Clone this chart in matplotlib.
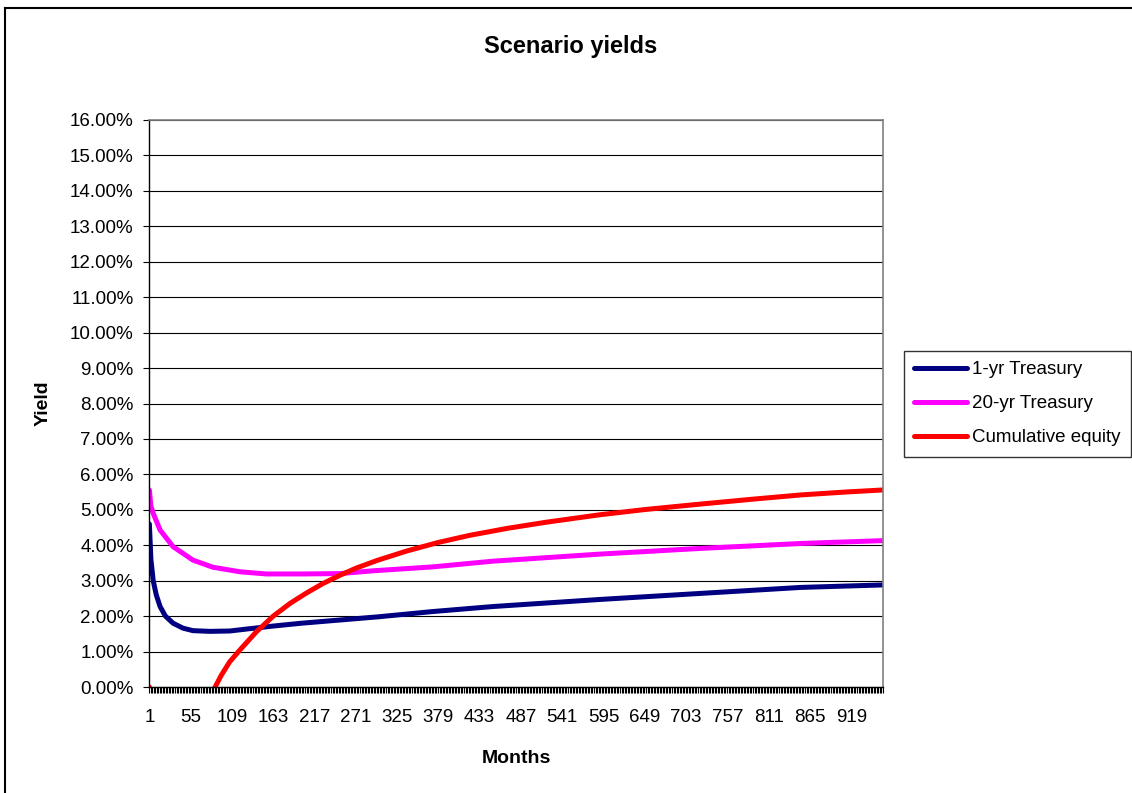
import matplotlib
matplotlib.use("Agg")
import matplotlib.pyplot as plt
from matplotlib.lines import Line2D
import numpy as np

plt.rcParams['font.family'] = ['Liberation Sans', 'DejaVu Sans']

# ---- data ----
n_months = 960
x_labels = list(range(1, n_months + 1, 54))  # 1, 55, 109, ... 919

months_1yr = [1, 3, 6, 10, 15, 22, 32, 45, 58, 80, 106, 130, 163, 200, 250, 300, 372, 450, 520, 590, 721, 853, 960]
yield_1yr = [4.60, 3.60, 3.00, 2.60, 2.27, 2.00, 1.80, 1.66, 1.59, 1.57, 1.58, 1.64, 1.72, 1.80, 1.89, 1.98, 2.13, 2.27, 2.37, 2.47, 2.64, 2.81, 2.88]

months_20yr = [1, 3, 6, 15, 32, 58, 84, 120, 154, 200, 250, 294, 372, 450, 520, 590, 721, 853, 960]
yield_20yr = [5.56, 5.10, 4.90, 4.43, 3.96, 3.58, 3.38, 3.25, 3.19, 3.19, 3.20, 3.28, 3.39, 3.55, 3.65, 3.75, 3.91, 4.05, 4.13]

months_eq = [1, 2, 10, 30, 60, 80, 87, 95, 106, 120, 141, 163, 185, 207, 228, 250, 272, 300, 338, 379, 420, 470, 520, 590, 650, 721, 790, 853, 910, 960]
yield_eq = [0.00, -6.00, -4.00, -2.50, -1.00, -0.30, 0.00, 0.33, 0.71, 1.06, 1.56, 2.00, 2.36, 2.66, 2.92, 3.15, 3.36, 3.58, 3.84, 4.08, 4.28, 4.48, 4.65, 4.86, 5.01, 5.16, 5.30, 5.42, 5.50, 5.56]

series_names = ["1-yr Treasury", "20-yr Treasury", "Cumulative equity"]
series_colors = ["#000080", "#FF00FF", "#FF0000"]

# ---- figure ----
W, H = 1132, 793
fig = plt.figure(figsize=(W / 100, H / 100), dpi=100)
fig.patch.set_facecolor("white")

L, R, T, B = 149, 883, 120, 687
ax = fig.add_axes([L / W, 1 - B / H, (R - L) / W, (B - T) / H])

lw = 3.6
ax.plot(months_1yr, np.array(yield_1yr) / 100, color=series_colors[0], lw=lw, label=series_names[0], solid_capstyle="round")
ax.plot(months_20yr, np.array(yield_20yr) / 100, color=series_colors[1], lw=lw, label=series_names[1], solid_capstyle="round")
ax.plot(months_eq, np.array(yield_eq) / 100, color=series_colors[2], lw=lw, label=series_names[2], solid_capstyle="round")

ax.set_xlim(0.5, n_months + 0.5)
ax.set_ylim(0, 0.16)

yt = np.arange(0, 0.1601, 0.01)
ax.set_yticks(yt)
ax.set_yticklabels([f"{v*100:.2f}%" for v in yt], fontsize=13.5)
ax.yaxis.grid(True, color="black", lw=0.8)
ax.set_axisbelow(True)

ax.set_xticks(x_labels)
ax.set_xticklabels([str(v) for v in x_labels], fontsize=13.5)
ax.set_xticks(np.arange(0.5, n_months + 1, 2), minor=True)
ax.tick_params(axis="x", which="major", length=0, pad=16)
ax.tick_params(axis="x", which="minor", length=4, width=0.8, color="black")
ax.tick_params(axis="y", which="major", length=4, width=0.8, pad=7)

for side in ["left", "bottom"]:
    ax.spines[side].set_color("black")
    ax.spines[side].set_linewidth(1.0)
for side in ["top", "right"]:
    ax.spines[side].set_color("#808080")
    ax.spines[side].set_linewidth(1.2)

ax.set_xlabel("Months", fontsize=14, fontweight="bold", labelpad=17)
ax.set_ylabel("Yield", fontsize=14, fontweight="bold", labelpad=13)

fig.text(571 / W, 1 - 47 / H, "Scenario yields", ha="center", va="center", fontsize=17, fontweight="bold")

leg = ax.legend(loc="upper left", bbox_to_anchor=((904 - L) / (R - L), (B - 351) / (B - T)),
                frameon=True, fancybox=False, fontsize=13.5, handlelength=2.8, handletextpad=0.3,
                borderpad=0.55, labelspacing=0.9, borderaxespad=0)
leg.get_frame().set_edgecolor("black")
leg.get_frame().set_linewidth(1.0)

# outer chart border
fig.add_artist(Line2D([5 / W, 5 / W], [0, 1 - 8 / H], transform=fig.transFigure, color="black", lw=1.5))
fig.add_artist(Line2D([5 / W, 1], [1 - 8 / H, 1 - 8 / H], transform=fig.transFigure, color="black", lw=1.5))

fig.savefig("out.png", dpi=100, facecolor="white")
